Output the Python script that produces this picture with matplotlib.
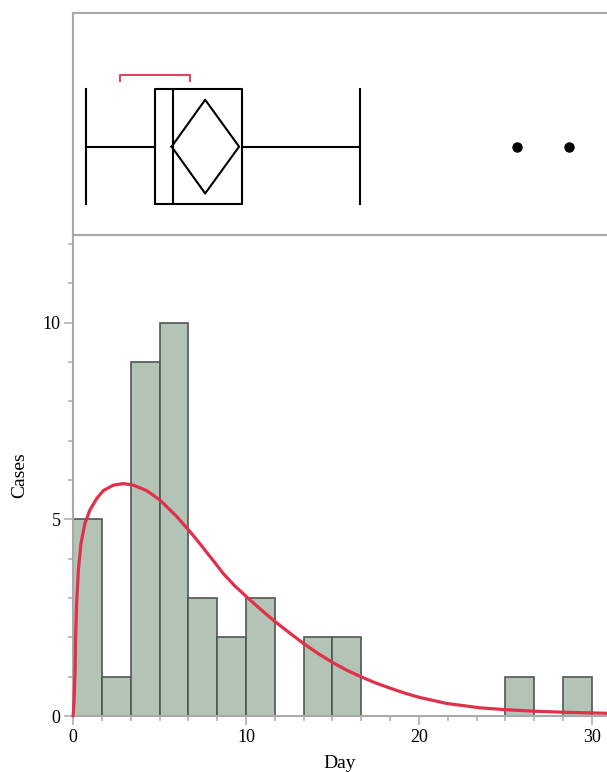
import numpy as np
import matplotlib
matplotlib.use('Agg')
import matplotlib.pyplot as plt

# histogram: bins of width 5/3 day starting at 0
bin_width = 5.0 / 3.0
counts = [5, 1, 9, 10, 3, 2, 3, 0, 2, 2, 0, 0, 0, 0, 0, 1, 0, 1]

# fitted density curve (cases scale)
curve_x = [0.0, 0.03, 0.06, 0.12, 0.15, 0.21, 0.31, 0.46, 0.69, 0.98, 1.37,
           1.75, 2.33, 2.91, 3.49, 4.26, 5.03, 6.0, 6.76, 7.34, 7.73, 8.2,
           8.69, 9.35, 10.04, 10.85, 11.68, 12.5, 13.31, 14.2, 15.05, 15.85,
           16.69, 17.5, 18.32, 19.2, 20.06, 21.6, 23.5, 25.07, 26.8, 28.5,
           30.87]
curve_y = [0.0, 0.15, 0.4, 1.17, 2.02, 2.87, 3.71, 4.39, 4.90, 5.24, 5.53,
           5.73, 5.87, 5.91, 5.87, 5.73, 5.49, 5.07, 4.69, 4.38, 4.16, 3.90,
           3.62, 3.31, 3.03, 2.71, 2.40, 2.12, 1.85, 1.58, 1.35, 1.16,
           0.99, 0.84, 0.71, 0.58, 0.47, 0.32, 0.21, 0.16, 0.12, 0.095,
           0.07]

# outlier box plot summary
q1, median, q3 = 4.75, 5.76, 9.75
whisker_lo, whisker_hi = 0.73, 16.6
outliers = [25.65, 28.65]
mean, mean_lo, mean_hi = 7.64, 5.7, 9.6
shortest_half = (2.7, 6.76)

XMAX = 30.87
gray = '#a9a9a9'
serif = 'Liberation Serif'

fig = plt.figure(figsize=(6.07, 7.72), dpi=100)
ax = fig.add_axes([0.1203, 0.0725, 0.8797, 0.6231])
axb = fig.add_axes([0.1203, 0.6956, 0.8797, 0.2876])

# histogram
lefts = np.arange(len(counts)) * bin_width
heights = np.array(counts)
mask = heights > 0
ax.bar(lefts[mask], heights[mask], width=bin_width, align='edge',
       color='#b3c3b6', edgecolor='#4f5752', linewidth=1.2, zorder=2)
ax.plot(curve_x, curve_y, color='#e0304a', lw=2.3, zorder=3,
        solid_capstyle='round', clip_on=False)

ax.set_xlim(0, XMAX)
ax.set_ylim(0, 12.23)
ax.set_xticks([0, 10, 20, 30])
ax.set_xticks(np.arange(0, 31, bin_width), minor=True)
ax.set_yticks([0, 5, 10])
ax.set_yticks(np.arange(0, 13, 1), minor=True)
ax.tick_params(which='major', length=6.5, width=1.1, color=gray, pad=2.5)
ax.tick_params(which='minor', length=3.5, width=1.1, color=gray)
for lab in ax.get_xticklabels() + ax.get_yticklabels():
    lab.set_fontfamily(serif)
    lab.set_fontsize(13)
ax.spines['right'].set_visible(False)
for s in ['left', 'bottom', 'top']:
    ax.spines[s].set_color(gray)
    ax.spines[s].set_linewidth(1.5)
ax.set_xlabel('Day', fontfamily=serif, fontsize=14, labelpad=7)
ax.set_ylabel('Cases', fontfamily=serif, fontsize=14, labelpad=10)

# box plot panel
c, half = 0.398, 0.259
stats = [dict(med=median, q1=q1, q3=q3, whislo=whisker_lo,
              whishi=whisker_hi, fliers=outliers)]
lp = dict(color='black', linewidth=1.5)
axb.bxp(stats, positions=[c], widths=2 * half, capwidths=2 * half,
        orientation='horizontal', boxprops=lp, whiskerprops=lp,
        capprops=lp, medianprops=lp,
        flierprops=dict(marker='o', markerfacecolor='black',
                        markeredgecolor='black', markersize=6.5))
dh = 0.211
axb.plot([mean_lo, mean, mean_hi, mean, mean_lo],
         [c, c + dh, c, c - dh, c], color='black', lw=1.5)
by, bd = 0.721, 0.026
axb.plot([shortest_half[0], shortest_half[0], shortest_half[1], shortest_half[1]],
         [by - bd, by, by, by - bd], color='#d9485c', lw=1.5)

axb.set_xlim(0, XMAX)
axb.set_ylim(0, 1)
axb.set_xticks([])
axb.set_yticks([])
axb.spines['right'].set_visible(False)
for s in ['left', 'top', 'bottom']:
    axb.spines[s].set_color(gray)
    axb.spines[s].set_linewidth(1.5)

fig.savefig('out.png', dpi=100)
